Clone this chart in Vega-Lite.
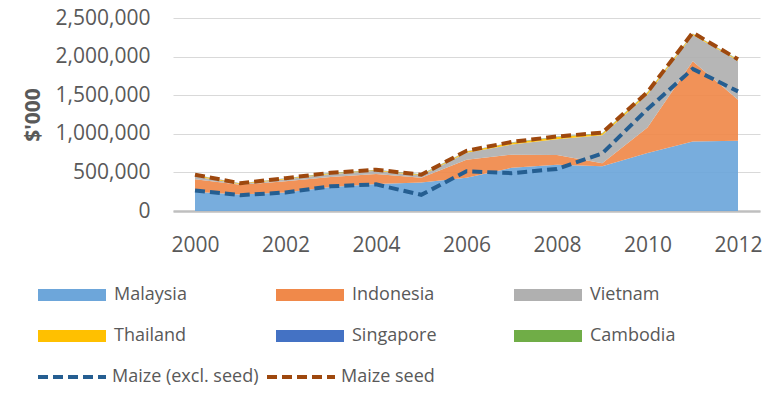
{
  "$schema": "https://vega.github.io/schema/vega-lite/v6.json",
  "width": 587,
  "height": 193,
  "autosize": {"type": "none"},
  "padding": {"left": 173, "top": 18, "right": 9, "bottom": 198},
  "background": "white",
  "config": {
    "view": {"stroke": null},
    "font": "Open Sans",
    "axis": {"labelFont": "Open Sans", "labelColor": "#595959", "labelFontSize": 21, "titleFont": "Open Sans", "titleColor": "#595959"},
    "legend": {"labelFont": "Open Sans", "labelColor": "#595959", "labelFontSize": 18, "padding": 0, "labelLimit": 300}
  },
  "datasets": {
    "areas": [
      {"year": 2000, "country": "Malaysia", "ord": 1, "value": 250000},
      {"year": 2000, "country": "Indonesia", "ord": 2, "value": 160000},
      {"year": 2000, "country": "Vietnam", "ord": 3, "value": 40000},
      {"year": 2000, "country": "Thailand", "ord": 4, "value": 15000},
      {"year": 2000, "country": "Singapore", "ord": 5, "value": 3000},
      {"year": 2000, "country": "Cambodia", "ord": 6, "value": 2000},
      {"year": 2001, "country": "Malaysia", "ord": 1, "value": 215000},
      {"year": 2001, "country": "Indonesia", "ord": 2, "value": 125000},
      {"year": 2001, "country": "Vietnam", "ord": 3, "value": 8000},
      {"year": 2001, "country": "Thailand", "ord": 4, "value": 8000},
      {"year": 2001, "country": "Singapore", "ord": 5, "value": 2000},
      {"year": 2001, "country": "Cambodia", "ord": 6, "value": 2000},
      {"year": 2002, "country": "Malaysia", "ord": 1, "value": 240000},
      {"year": 2002, "country": "Indonesia", "ord": 2, "value": 145000},
      {"year": 2002, "country": "Vietnam", "ord": 3, "value": 25000},
      {"year": 2002, "country": "Thailand", "ord": 4, "value": 10000},
      {"year": 2002, "country": "Singapore", "ord": 5, "value": 3000},
      {"year": 2002, "country": "Cambodia", "ord": 6, "value": 2000},
      {"year": 2003, "country": "Malaysia", "ord": 1, "value": 310000},
      {"year": 2003, "country": "Indonesia", "ord": 2, "value": 130000},
      {"year": 2003, "country": "Vietnam", "ord": 3, "value": 40000},
      {"year": 2003, "country": "Thailand", "ord": 4, "value": 10000},
      {"year": 2003, "country": "Singapore", "ord": 5, "value": 3000},
      {"year": 2003, "country": "Cambodia", "ord": 6, "value": 2000},
      {"year": 2004, "country": "Malaysia", "ord": 1, "value": 350000},
      {"year": 2004, "country": "Indonesia", "ord": 2, "value": 130000},
      {"year": 2004, "country": "Vietnam", "ord": 3, "value": 40000},
      {"year": 2004, "country": "Thailand", "ord": 4, "value": 10000},
      {"year": 2004, "country": "Singapore", "ord": 5, "value": 3000},
      {"year": 2004, "country": "Cambodia", "ord": 6, "value": 2000},
      {"year": 2005, "country": "Malaysia", "ord": 1, "value": 370000},
      {"year": 2005, "country": "Indonesia", "ord": 2, "value": 60000},
      {"year": 2005, "country": "Vietnam", "ord": 3, "value": 30000},
      {"year": 2005, "country": "Thailand", "ord": 4, "value": 10000},
      {"year": 2005, "country": "Singapore", "ord": 5, "value": 3000},
      {"year": 2005, "country": "Cambodia", "ord": 6, "value": 2000},
      {"year": 2006, "country": "Malaysia", "ord": 1, "value": 430000},
      {"year": 2006, "country": "Indonesia", "ord": 2, "value": 235000},
      {"year": 2006, "country": "Vietnam", "ord": 3, "value": 90000},
      {"year": 2006, "country": "Thailand", "ord": 4, "value": 15000},
      {"year": 2006, "country": "Singapore", "ord": 5, "value": 3000},
      {"year": 2006, "country": "Cambodia", "ord": 6, "value": 2000},
      {"year": 2007, "country": "Malaysia", "ord": 1, "value": 560000},
      {"year": 2007, "country": "Indonesia", "ord": 2, "value": 170000},
      {"year": 2007, "country": "Vietnam", "ord": 3, "value": 130000},
      {"year": 2007, "country": "Thailand", "ord": 4, "value": 25000},
      {"year": 2007, "country": "Singapore", "ord": 5, "value": 3000},
      {"year": 2007, "country": "Cambodia", "ord": 6, "value": 2000},
      {"year": 2008, "country": "Malaysia", "ord": 1, "value": 600000},
      {"year": 2008, "country": "Indonesia", "ord": 2, "value": 125000},
      {"year": 2008, "country": "Vietnam", "ord": 3, "value": 205000},
      {"year": 2008, "country": "Thailand", "ord": 4, "value": 30000},
      {"year": 2008, "country": "Singapore", "ord": 5, "value": 3000},
      {"year": 2008, "country": "Cambodia", "ord": 6, "value": 2000},
      {"year": 2009, "country": "Malaysia", "ord": 1, "value": 580000},
      {"year": 2009, "country": "Indonesia", "ord": 2, "value": 40000},
      {"year": 2009, "country": "Vietnam", "ord": 3, "value": 360000},
      {"year": 2009, "country": "Thailand", "ord": 4, "value": 25000},
      {"year": 2009, "country": "Singapore", "ord": 5, "value": 3000},
      {"year": 2009, "country": "Cambodia", "ord": 6, "value": 2000},
      {"year": 2010, "country": "Malaysia", "ord": 1, "value": 750000},
      {"year": 2010, "country": "Indonesia", "ord": 2, "value": 330000},
      {"year": 2010, "country": "Vietnam", "ord": 3, "value": 430000},
      {"year": 2010, "country": "Thailand", "ord": 4, "value": 25000},
      {"year": 2010, "country": "Singapore", "ord": 5, "value": 3000},
      {"year": 2010, "country": "Cambodia", "ord": 6, "value": 2000},
      {"year": 2011, "country": "Malaysia", "ord": 1, "value": 900000},
      {"year": 2011, "country": "Indonesia", "ord": 2, "value": 1040000},
      {"year": 2011, "country": "Vietnam", "ord": 3, "value": 340000},
      {"year": 2011, "country": "Thailand", "ord": 4, "value": 15000},
      {"year": 2011, "country": "Singapore", "ord": 5, "value": 3000},
      {"year": 2011, "country": "Cambodia", "ord": 6, "value": 2000},
      {"year": 2012, "country": "Malaysia", "ord": 1, "value": 910000},
      {"year": 2012, "country": "Indonesia", "ord": 2, "value": 530000},
      {"year": 2012, "country": "Vietnam", "ord": 3, "value": 505000},
      {"year": 2012, "country": "Thailand", "ord": 4, "value": 15000},
      {"year": 2012, "country": "Singapore", "ord": 5, "value": 3000},
      {"year": 2012, "country": "Cambodia", "ord": 6, "value": 2000}
    ],
    "lines": [
      {"year": 2000, "series": "Maize (excl. seed)", "value": 267000},
      {"year": 2001, "series": "Maize (excl. seed)", "value": 205000},
      {"year": 2002, "series": "Maize (excl. seed)", "value": 240000},
      {"year": 2003, "series": "Maize (excl. seed)", "value": 320000},
      {"year": 2004, "series": "Maize (excl. seed)", "value": 345000},
      {"year": 2005, "series": "Maize (excl. seed)", "value": 210000},
      {"year": 2006, "series": "Maize (excl. seed)", "value": 515000},
      {"year": 2007, "series": "Maize (excl. seed)", "value": 490000},
      {"year": 2008, "series": "Maize (excl. seed)", "value": 545000},
      {"year": 2009, "series": "Maize (excl. seed)", "value": 745000},
      {"year": 2010, "series": "Maize (excl. seed)", "value": 1320000},
      {"year": 2011, "series": "Maize (excl. seed)", "value": 1840000},
      {"year": 2012, "series": "Maize (excl. seed)", "value": 1550000},
      {"year": 2000, "series": "Maize seed", "value": 470000},
      {"year": 2001, "series": "Maize seed", "value": 360000},
      {"year": 2002, "series": "Maize seed", "value": 425000},
      {"year": 2003, "series": "Maize seed", "value": 495000},
      {"year": 2004, "series": "Maize seed", "value": 535000},
      {"year": 2005, "series": "Maize seed", "value": 470000},
      {"year": 2006, "series": "Maize seed", "value": 780000},
      {"year": 2007, "series": "Maize seed", "value": 895000},
      {"year": 2008, "series": "Maize seed", "value": 965000},
      {"year": 2009, "series": "Maize seed", "value": 1015000},
      {"year": 2010, "series": "Maize seed", "value": 1540000},
      {"year": 2011, "series": "Maize seed", "value": 2310000},
      {"year": 2012, "series": "Maize seed", "value": 1965000}
    ]
  },
  "layer": [
    {
      "data": {"name": "areas"},
      "mark": {"type": "area", "fillOpacity": 0.92},
      "encoding": {
        "x": {
          "field": "year", "type": "quantitative",
          "scale": {"domain": [2000, 2012], "padding": 22, "nice": false, "zero": false},
          "axis": {"values": [2000, 2002, 2004, 2006, 2008, 2010, 2012], "format": "d", "title": null, "grid": false, "ticks": false, "labelPadding": 23, "domainColor": "#BFBFBF", "domainWidth": 2.5}
        },
        "y": {
          "field": "value", "type": "quantitative", "stack": "zero",
          "scale": {"domain": [0, 2500000], "nice": false},
          "axis": {"values": [0, 500000, 1000000, 1500000, 2000000, 2500000], "format": ",d", "title": "$'000", "titleFontWeight": "bold", "titleFontSize": 21, "titleX": -130, "domain": false, "ticks": false, "labelPadding": 23, "gridColor": "#D9D9D9", "gridWidth": 1}
        },
        "fill": {
          "field": "country", "type": "nominal",
          "scale": {"domain": ["Malaysia", "Indonesia", "Vietnam", "Thailand", "Singapore", "Cambodia"], "range": ["#6DA6DA", "#F0894A", "#B0B0B0", "#FFC000", "#4472C4", "#70AD47"]},
          "legend": {"orient": "none", "legendX": -135, "legendY": 266, "direction": "horizontal", "columns": 3, "title": null, "symbolType": "M-1,-0.176L1,-0.176L1,0.176L-1,0.176Z", "symbolSize": 4624, "symbolStrokeWidth": 0, "symbolOpacity": 1, "clipHeight": 22, "labelOffset": 8, "columnPadding": 76, "rowPadding": 19, "gridAlign": "all"}
        },
        "order": {"field": "ord", "type": "quantitative"}
      }
    },
    {
      "data": {"name": "lines"},
      "mark": {"type": "line", "strokeWidth": 4, "strokeDash": [10, 5]},
      "encoding": {
        "x": {
          "field": "year", "type": "quantitative",
          "scale": {"domain": [2000, 2012], "padding": 22, "nice": false, "zero": false},
          "axis": {"values": [2000, 2002, 2004, 2006, 2008, 2010, 2012], "format": "d", "title": null, "grid": false, "ticks": false, "labelPadding": 23, "domainColor": "#BFBFBF", "domainWidth": 2.5}
        },
        "y": {
          "field": "value", "type": "quantitative",
          "scale": {"domain": [0, 2500000], "nice": false},
          "axis": {"values": [0, 500000, 1000000, 1500000, 2000000, 2500000], "format": ",d", "title": "$'000", "titleFontWeight": "bold", "titleFontSize": 21, "titleX": -130, "domain": false, "ticks": false, "labelPadding": 23, "gridColor": "#D9D9D9", "gridWidth": 1}
        },
        "stroke": {
          "field": "series", "type": "nominal",
          "scale": {"domain": ["Maize (excl. seed)", "Maize seed"], "range": ["#255E91", "#9E480E"]},
          "legend": {"orient": "none", "legendX": -137, "legendY": 348, "direction": "horizontal", "columns": 2, "title": null, "symbolType": "stroke", "symbolSize": 4624, "symbolStrokeWidth": 4, "symbolDash": [10, 5], "clipHeight": 22, "labelOffset": 4, "columnPadding": 6, "gridAlign": "each"}
        }
      }
    }
  ]
}
